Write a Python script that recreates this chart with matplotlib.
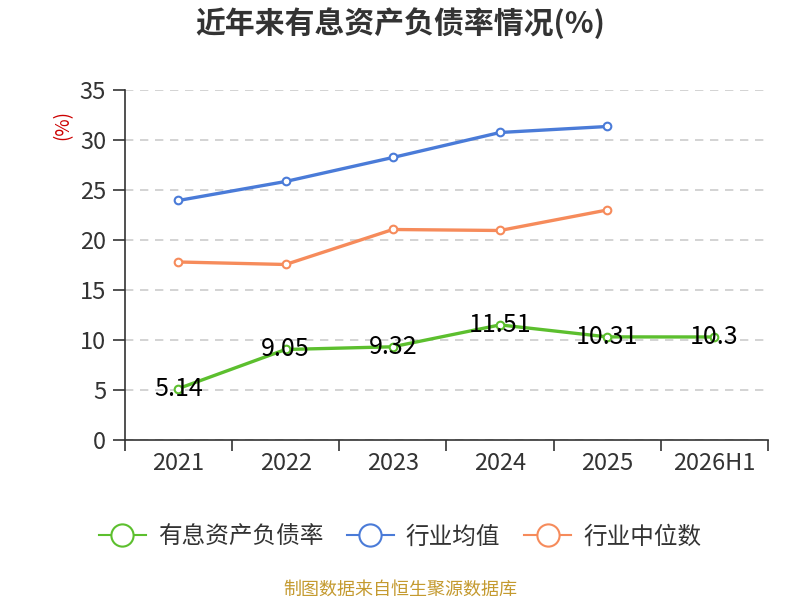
import matplotlib
matplotlib.use('Agg')
import matplotlib.pyplot as plt
from matplotlib.lines import Line2D

plt.rcParams['font.family'] = ['Noto Sans CJK SC', 'DejaVu Sans']

# data
years = ['2021', '2022', '2023', '2024', '2025', '2026H1']
debt_ratio = [5.14, 9.05, 9.32, 11.51, 10.31, 10.3]
industry_avg = [23.95, 25.85, 28.25, 30.75, 31.35]
industry_median = [17.8, 17.55, 21.05, 20.95, 23.0]

green = '#5cbf2e'
blue = '#4a7bd8'
orange = '#f68b5b'

fig = plt.figure(figsize=(8, 6), dpi=100)
ax = fig.add_axes([0.156, 0.2667, 0.804, 0.5833])

x = list(range(len(years)))

ax.plot(x[:len(industry_avg)], industry_avg, color=blue, lw=2.4,
        marker='o', ms=5.5, mfc='white', mec=blue, mew=1.5, zorder=3)
ax.plot(x[:len(industry_median)], industry_median, color=orange, lw=2.4,
        marker='o', ms=5.5, mfc='white', mec=orange, mew=1.5, zorder=3)
ax.plot(x, debt_ratio, color=green, lw=2.4,
        marker='o', ms=5.5, mfc='white', mec=green, mew=1.5, zorder=3)

for xi, v in zip(x, debt_ratio):
    ax.text(xi, v, f'{v:g}', ha='center', va='center', fontsize=18,
            color='black', zorder=5)

ax.set_xlim(-0.5, len(years) - 0.5)
ax.set_ylim(0, 35)
ax.set_yticks(range(0, 36, 5))
ax.set_xticks(x)
ax.set_xticklabels(years)
ax.set_xticks([i - 0.5 for i in range(len(years) + 1)], minor=True)
ax.tick_params(axis='x', which='major', length=0, pad=9, labelsize=17,
               labelcolor='#333333')
ax.tick_params(axis='x', which='minor', length=8, width=1.2, color='#333333')
ax.tick_params(axis='y', length=8.5, width=1.2, color='#333333', pad=5,
               labelsize=17, labelcolor='#333333')

ax.grid(axis='y', linestyle=(0, (5, 4)), color='#cccccc', lw=1.2)
ax.set_axisbelow(True)
for s in ['top', 'right']:
    ax.spines[s].set_visible(False)
for s in ['left', 'bottom']:
    ax.spines[s].set_color('#333333')
    ax.spines[s].set_linewidth(1.2)

fig.text(0.5, 0.962, '近年来有息资产负债率情况(%)', ha='center', va='center',
         fontsize=21.5, fontweight='bold', color='#333333')
fig.text(0.078, 0.792, '(%)', ha='center', va='center', rotation=90,
         fontsize=13.5, color='#cc0000')

handles = [
    Line2D([0], [0], color=green, lw=1.5, marker='o', ms=16, mfc='white', mec=green, mew=1.5),
    Line2D([0], [0], color=blue, lw=1.5, marker='o', ms=16, mfc='white', mec=blue, mew=1.5),
    Line2D([0], [0], color=orange, lw=1.5, marker='o', ms=16, mfc='white', mec=orange, mew=1.5),
]
fig.legend(handles, ['有息资产负债率', '行业均值', '行业中位数'], loc='center',
           bbox_to_anchor=(0.5, 0.105), ncol=3, frameon=False, fontsize=17,
           handlelength=2.0, columnspacing=1.0, handletextpad=0.5,
           labelcolor='#333333')

fig.text(0.5, 0.017, '制图数据来自恒生聚源数据库', ha='center', va='center',
         fontsize=13, color='#c49a2f')

fig.savefig('out.png', dpi=100)
